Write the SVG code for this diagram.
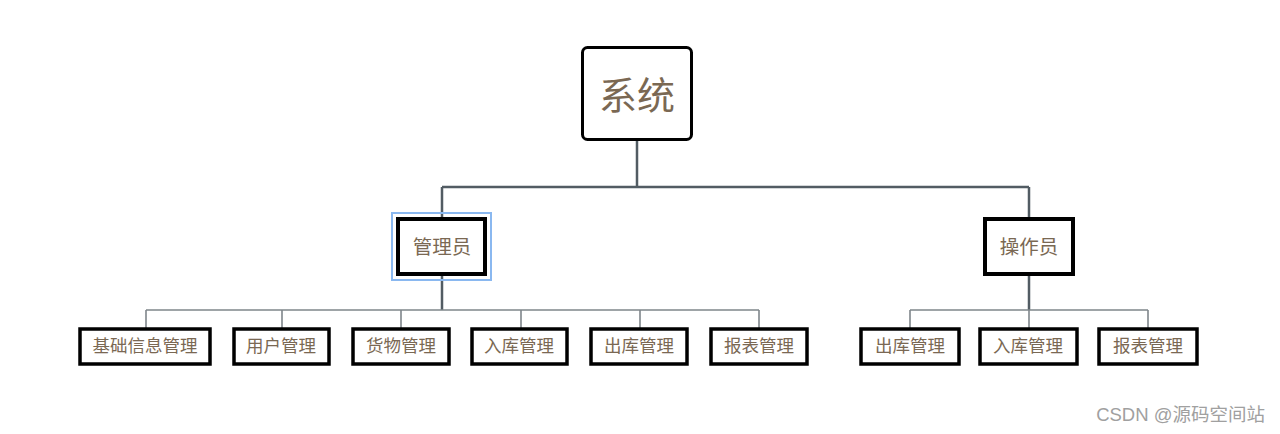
<svg xmlns="http://www.w3.org/2000/svg" width="1280" height="434" viewBox="0 0 1280 434">
<style>
.box{fill:#fff;stroke:#000}
.t{font-family:"Noto Sans CJK SC","Liberation Sans",sans-serif;fill:#7a6853;text-anchor:middle;dominant-baseline:central}
.c{font-size:17.5px}
.main{stroke:#525c63;stroke-width:2.5;fill:none}
.sub{stroke:#7f868b;stroke-width:1.6;fill:none}
</style>
<rect width="1280" height="434" fill="#fff"/>
<g id="connectors">
<path class="main" d="M637 140V187M442 187H1029M442 187V218M1029 187V218"/>
<path class="main" d="M442 275V310M1029 275V310"/>
<path class="sub" d="M146 310H759M146 310V328M282 310V328M401 310V328M521 310V328M640 310V328M759 310V328"/>
<path class="sub" d="M910 310H1148M910 310V328M1029 310V328M1148 310V328"/>
</g>
<g id="root">
<rect class="box" x="582.5" y="47.5" width="109" height="92" rx="5" stroke-width="3"/>
<text class="t" x="637" y="92" font-size="38">系统</text>
</g>
<g id="admin">
<rect x="392" y="213" width="99" height="67" fill="none" stroke="#8ab8f0" stroke-width="2"/>
<rect class="box" x="398" y="219" width="87" height="55" stroke-width="4"/>
<text class="t" x="442" y="245" font-size="19.5">管理员</text>
</g>
<g id="operator">
<rect class="box" x="985" y="219" width="88" height="55" stroke-width="4"/>
<text class="t" x="1029" y="245" font-size="19.5">操作员</text>
</g>
<g id="a1"><rect class="box" x="80" y="329" width="130" height="35" stroke-width="3.5"/><text class="t c" x="145" y="344.5">基础信息管理</text></g>
<g id="a2"><rect class="box" x="234" y="329" width="95" height="35" stroke-width="3.5"/><text class="t c" x="281" y="344.5">用户管理</text></g>
<g id="a3"><rect class="box" x="353" y="329" width="96" height="35" stroke-width="3.5"/><text class="t c" x="401" y="344.5">货物管理</text></g>
<g id="a4"><rect class="box" x="472" y="329" width="95" height="35" stroke-width="3.5"/><text class="t c" x="519" y="344.5">入库管理</text></g>
<g id="a5"><rect class="box" x="591" y="329" width="96" height="35" stroke-width="3.5"/><text class="t c" x="639" y="344.5">出库管理</text></g>
<g id="a6"><rect class="box" x="711" y="329" width="96" height="35" stroke-width="3.5"/><text class="t c" x="759" y="344.5">报表管理</text></g>
<g id="o1"><rect class="box" x="861" y="329" width="98" height="35" stroke-width="3.5"/><text class="t c" x="910" y="344.5">出库管理</text></g>
<g id="o2"><rect class="box" x="980" y="329" width="97" height="35" stroke-width="3.5"/><text class="t c" x="1028" y="344.5">入库管理</text></g>
<g id="o3"><rect class="box" x="1099" y="329" width="98" height="35" stroke-width="3.5"/><text class="t c" x="1148" y="344.5">报表管理</text></g>
<text x="1265" y="421" font-family="'Liberation Sans','Noto Sans CJK SC',sans-serif" font-size="18.5" fill="#a0a0a0" text-anchor="end">CSDN @源码空间站</text>
</svg>
